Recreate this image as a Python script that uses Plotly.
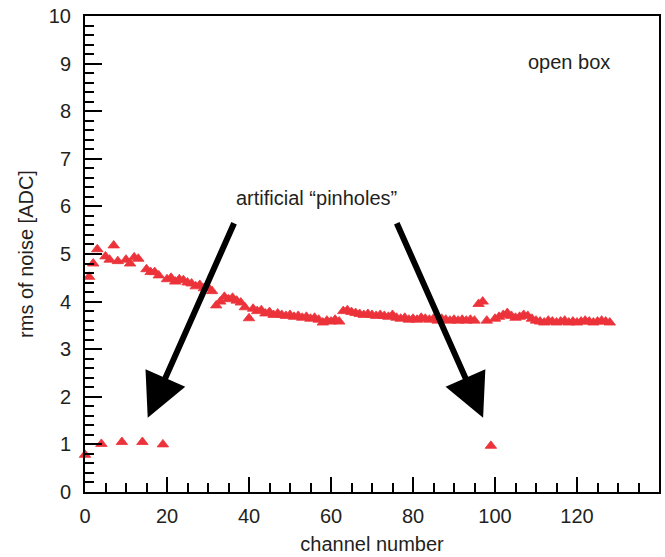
import plotly.graph_objects as go

# main noise series (channel, rms)
channels = [1, 2, 3, 5, 6, 7, 8, 10, 11, 12, 13, 15, 16, 17, 18,
            20, 21, 22, 23, 24, 25, 26, 27, 28, 29, 30, 31, 32, 33, 34, 35, 36, 37, 38, 39, 40,
            41, 42, 43, 44, 45, 46, 47, 48, 49, 50, 51, 52, 53, 54, 55, 56, 57, 58, 59, 60,
            61, 62, 63, 64, 65, 66, 67, 68, 69, 70, 71, 72, 73, 74, 75, 76, 77, 78, 79, 80,
            81, 82, 83, 84, 85, 86, 87, 88, 89, 90, 91, 92, 93, 94, 95, 96, 97, 98,
            100, 101, 102, 103, 104, 105, 106, 107, 108, 109, 110, 111, 112, 113, 114, 115,
            116, 117, 118, 119, 120, 121, 122, 123, 124, 125, 126, 127, 128]
rms = [4.52, 4.80, 5.10, 4.95, 4.88, 5.18, 4.85, 4.88, 4.80, 4.93, 4.90, 4.68, 4.62, 4.62, 4.55,
       4.47, 4.50, 4.42, 4.47, 4.45, 4.40, 4.38, 4.32, 4.35, 4.28, 4.30, 4.22, 3.92, 4.00, 4.10,
       4.05, 4.08, 4.02, 3.98, 3.88, 3.65,
       3.85, 3.80, 3.82, 3.75, 3.78, 3.72, 3.75, 3.72, 3.70, 3.72, 3.68, 3.70, 3.66, 3.68, 3.64,
       3.66, 3.62, 3.56, 3.60, 3.58,
       3.62, 3.58, 3.80, 3.82, 3.78, 3.76, 3.74, 3.72, 3.74, 3.72, 3.70, 3.72, 3.70, 3.68, 3.72,
       3.66, 3.64, 3.66, 3.62, 3.64,
       3.62, 3.66, 3.64, 3.62, 3.64, 3.60, 3.64, 3.62, 3.60, 3.62, 3.60, 3.62, 3.60, 3.62, 3.60,
       3.95, 4.00, 3.60,
       3.64, 3.68, 3.72, 3.76, 3.70, 3.66, 3.68, 3.72, 3.70, 3.64, 3.60, 3.58, 3.56, 3.60, 3.58,
       3.56, 3.58, 3.60, 3.56, 3.58, 3.56, 3.58, 3.60, 3.58, 3.56, 3.58, 3.60, 3.58, 3.56]

# artificial pinhole channels
pin_channels = [0, 4, 9, 14, 19, 99]
pin_rms = [0.78, 1.01, 1.05, 1.05, 1.00, 0.97]

x_ticks = [0, 20, 40, 60, 80, 100, 120]
y_ticks = [0, 1, 2, 3, 4, 5, 6, 7, 8, 9, 10]

RED = "rgb(236,50,58)"
FONT = "Arial, 'Liberation Sans', sans-serif"
TXT = "#231f20"

marker = dict(symbol="triangle-up", size=10, color=RED, line=dict(width=0.8, color=RED))

fig = go.Figure()
fig.add_trace(go.Scatter(x=channels, y=rms, mode="markers", marker=marker,
                         cliponaxis=False, showlegend=False))
fig.add_trace(go.Scatter(x=pin_channels, y=pin_rms, mode="markers", marker=marker,
                         cliponaxis=False, showlegend=False))

fig.add_annotation(x=15.3, y=1.56, xref="x", yref="y", ax=87, ay=-196,
                   showarrow=True, arrowhead=2, arrowsize=1.45, arrowwidth=6, arrowcolor="black", text="")
fig.add_annotation(x=97.1, y=1.56, xref="x", yref="y", ax=-87, ay=-196,
                   showarrow=True, arrowhead=2, arrowsize=1.45, arrowwidth=6, arrowcolor="black", text="")
fig.add_annotation(x=56.5, y=6.18, xref="x", yref="y", text="artificial \u201cpinholes\u201d",
                   showarrow=False, font=dict(family=FONT, size=20, color=TXT))
fig.add_annotation(x=118, y=9.04, xref="x", yref="y", text="open box",
                   showarrow=False, font=dict(family=FONT, size=20, color=TXT))

axis_common = dict(showline=True, linecolor="black", linewidth=2, mirror=True,
                   ticks="inside", tickcolor="black", tickwidth=2,
                   showgrid=False, zeroline=False,
                   tickfont=dict(family=FONT, size=20, color=TXT))

fig.update_xaxes(range=[0, 140], tickvals=x_ticks, ticklen=15, ticklabelstandoff=5,
                 minor=dict(ticks="inside", ticklen=9, dtick=5, tickcolor="black", tickwidth=2),
                 title=dict(text="channel number", font=dict(family=FONT, size=20, color=TXT), standoff=11),
                 **axis_common)
fig.update_yaxes(range=[0, 10], tickvals=y_ticks, ticklen=17, ticklabelstandoff=8,
                 minor=dict(ticks="inside", ticklen=9, dtick=0.2, tickcolor="black", tickwidth=2),
                 title=dict(text="rms of noise [ADC]", font=dict(family=FONT, size=20, color=TXT), standoff=10),
                 **axis_common)

fig.update_layout(width=665, height=557, margin=dict(l=85, r=4, t=16, b=65),
                  paper_bgcolor="white", plot_bgcolor="white")

fig.write_html("out.html")
